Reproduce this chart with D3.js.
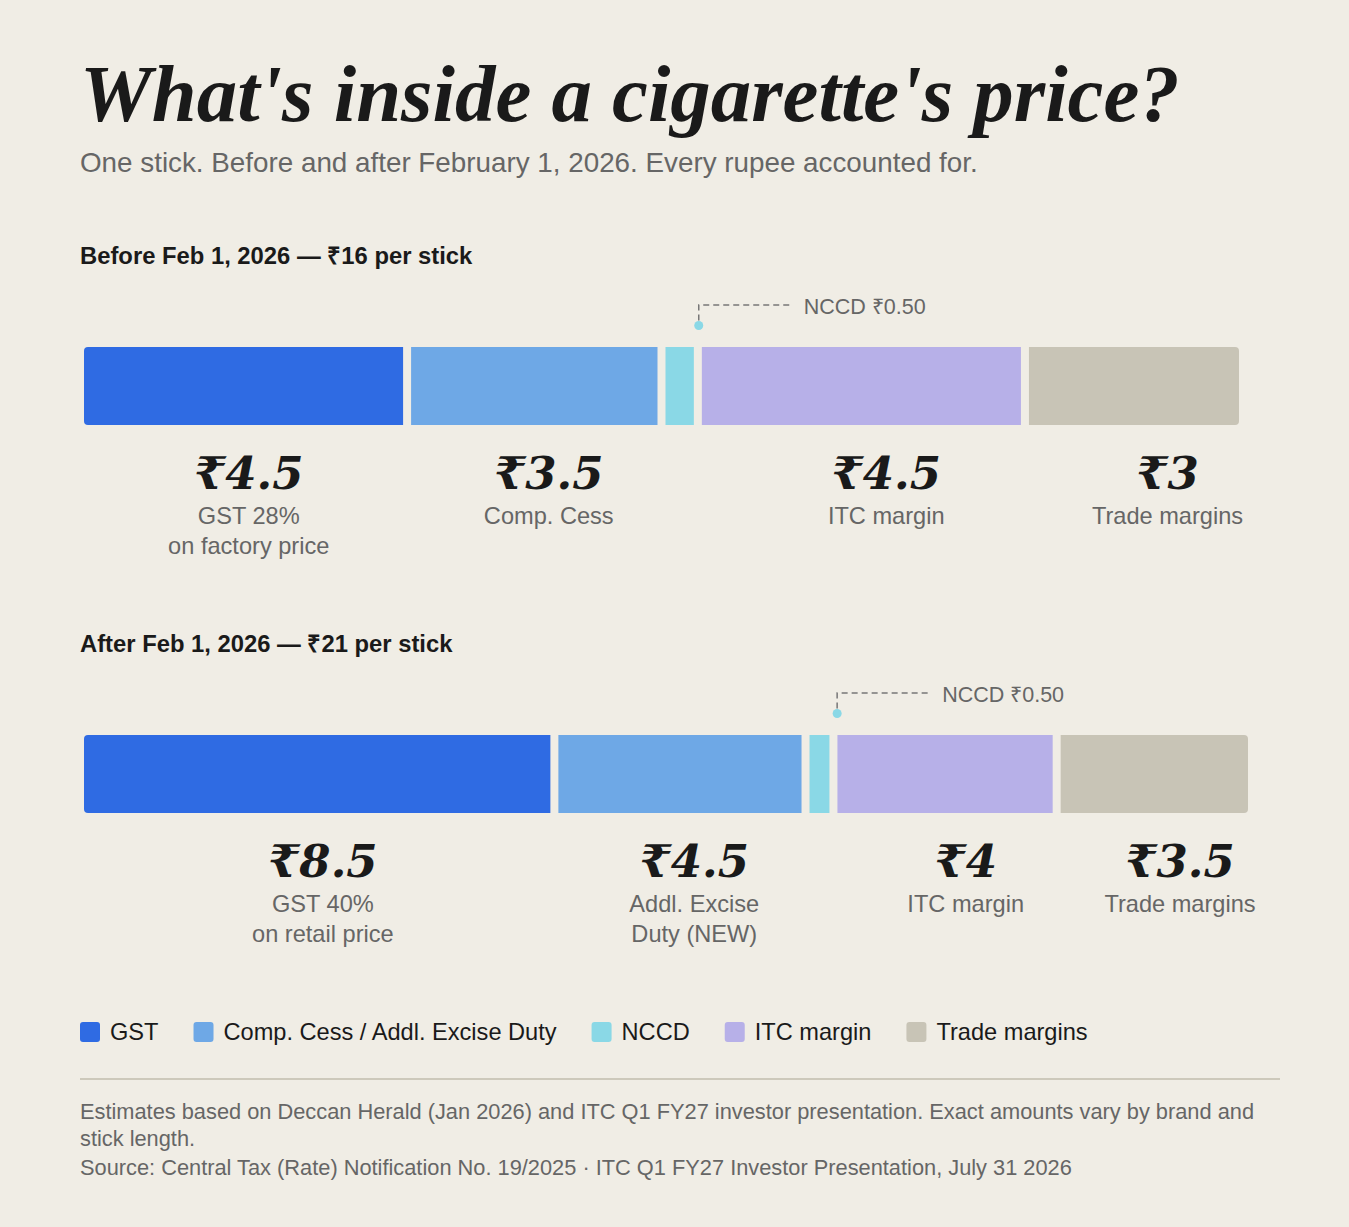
<!DOCTYPE html>
<html>
<head>
<meta charset="utf-8">
<script src="https://cdn.jsdelivr.net/npm/d3@7"></script>
<style>
  body { margin: 0; background: #f0ede5; }
  svg { display: block; }
</style>
</head>
<body>
<div id="chart"></div>
<script>
// data
const categories = ["GST", "Comp. Cess / Addl. Excise Duty", "NCCD", "ITC margin", "Trade margins"];
const colors = ["#2f6be3", "#6ea8e6", "#8ad8e6", "#b7b0e8", "#c8c4b6"];
const panelTitles = ["Before Feb 1, 2026 — ₹16 per stick", "After Feb 1, 2026 — ₹21 per stick"];
const beforeValues = [4.5, 3.5, 0.5, 4.5, 3];
const afterValues = [8.5, 4.5, 0.5, 4, 3.5];
const beforeLabels = [["GST 28%", "on factory price"], ["Comp. Cess"], null, ["ITC margin"], ["Trade margins"]];
const afterLabels = [["GST 40%", "on retail price"], ["Addl. Excise", "Duty (NEW)"], null, ["ITC margin"], ["Trade margins"]];
const calloutIndex = 2; // NCCD is too thin for a label below, gets a callout

const title = "What's inside a cigarette's price?";
const subtitle = "One stick. Before and after February 1, 2026. Every rupee accounted for.";
const notes = [
  "Estimates based on Deccan Herald (Jan 2026) and ITC Q1 FY27 investor presentation. Exact amounts vary by brand and",
  "stick length."
];
const source = "Source: Central Tax (Rate) Notification No. 19/2025 · ITC Q1 FY27 Investor Presentation, July 31 2026";

const width = 1349;
const height = 1227;
const left = 80, right = 1280;
const sans = "'Liberation Sans', Arial, Helvetica, sans-serif";
const serif = "'DejaVu Serif', Georgia, serif";
const ink = "#1a1a1a", grey = "#666";

const svg = d3.select("#chart").append("svg")
  .attr("width", width)
  .attr("height", height);

svg.append("rect").attr("width", width).attr("height", height).attr("fill", "#f0ede5");

// title, fitted to its width in the reference
let t = svg.append("text")
  .attr("x", left).attr("y", 121)
  .style("font-family", "'Liberation Serif', Georgia, serif")
  .style("font-weight", "bold").style("font-style", "italic")
  .style("font-size", "66px")
  .attr("fill", ink)
  .text(title);
let tw = t.node().getComputedTextLength();
t.style("font-size", (66 * 1100 / tw) + "px");

svg.append("text")
  .attr("x", left).attr("y", 172)
  .style("font-family", sans).style("font-size", "27.8px")
  .attr("fill", grey)
  .text(subtitle);

const panels = [
  { values: beforeValues, labels: beforeLabels, top: 264, barRight: 1247 },
  { values: afterValues, labels: afterLabels, top: 652, barRight: 1256 }
];

panels.forEach((p, pi) => {
  let total = d3.sum(p.values);
  let starts = d3.cumsum([0].concat(p.values)).slice(0, p.values.length);
  let segs = p.values.map((v, i) => ({ v: v, start: starts[i], i: i, label: p.labels[i] }));

  let barTop = p.top + 83, barH = 78, gap = 8;
  let x = d3.scaleLinear().domain([0, total]).range([84, p.barRight]);
  let lx = d3.scaleLinear().domain([0, total]).range([left, right]);

  let g = svg.append("g");

  g.append("text")
    .attr("x", left).attr("y", p.top)
    .style("font-family", sans).style("font-weight", "bold").style("font-size", "23.8px")
    .attr("fill", ink)
    .text(panelTitles[pi]);

  // rounded ends only on the outside of the bar
  let clipId = "clip" + pi;
  g.append("clipPath").attr("id", clipId)
    .append("rect")
    .attr("x", x(0)).attr("y", barTop)
    .attr("width", x(total) - gap - x(0)).attr("height", barH)
    .attr("rx", 4);

  g.append("g").attr("clip-path", "url(#" + clipId + ")")
    .selectAll("rect")
    .data(segs).enter()
    .append("rect")
    .attr("x", d => x(d.start))
    .attr("y", barTop)
    .attr("width", d => x(d.start + d.v) - x(d.start) - gap)
    .attr("height", barH)
    .attr("fill", d => colors[d.i]);

  let labelled = segs.filter(d => d.label);
  g.selectAll("text.val")
    .data(labelled).enter()
    .append("text")
    .attr("class", "val")
    .attr("x", d => lx(d.start + d.v / 2))
    .attr("y", barTop + barH + 64)
    .attr("text-anchor", "middle")
    .style("font-family", serif).style("font-weight", "bold").style("font-style", "italic")
    .style("font-size", "45px")
    .attr("fill", ink)
    .text(d => "₹" + d.v);

  labelled.forEach(d => {
    d.label.forEach((line, li) => {
      g.append("text")
        .attr("x", lx(d.start + d.v / 2))
        .attr("y", barTop + barH + 99 + li * 30)
        .attr("text-anchor", "middle")
        .style("font-family", sans).style("font-size", "23.6px")
        .attr("fill", grey)
        .text(line);
    });
  });

  // callout for the thin slice
  let c = segs[calloutIndex];
  let cx = lx(c.start + c.v / 2), cy = barTop - 21.5;
  g.append("path")
    .attr("d", "M" + cx + "," + (cy - 5) + "V" + (barTop - 42) + "H" + (cx + 92))
    .attr("fill", "none")
    .attr("stroke", "#777")
    .attr("stroke-width", 1.5)
    .attr("stroke-dasharray", "6,4");
  g.append("circle")
    .attr("cx", cx).attr("cy", cy).attr("r", 4.5)
    .attr("fill", colors[calloutIndex]);
  g.append("text")
    .attr("x", cx + 105).attr("y", barTop - 33)
    .style("font-family", sans).style("font-size", "21.5px")
    .attr("fill", grey)
    .text(categories[calloutIndex] + " ₹" + c.v.toFixed(2));
});

// legend
let lxPos = left;
categories.forEach((name, i) => {
  svg.append("rect")
    .attr("x", lxPos).attr("y", 1022)
    .attr("width", 20).attr("height", 20).attr("rx", 3)
    .attr("fill", colors[i]);
  let txt = svg.append("text")
    .attr("x", lxPos + 30).attr("y", 1040)
    .style("font-family", sans).style("font-size", "23.6px")
    .attr("fill", ink)
    .text(name);
  lxPos += 30 + txt.node().getComputedTextLength() + 35;
});

svg.append("line")
  .attr("x1", left).attr("x2", right)
  .attr("y1", 1079).attr("y2", 1079)
  .attr("stroke", "#cdc9bb").attr("stroke-width", 2);

notes.forEach((line, i) => {
  svg.append("text")
    .attr("x", left).attr("y", 1119 + i * 27)
    .style("font-family", sans).style("font-size", "21.8px")
    .attr("fill", grey)
    .text(line);
});
svg.append("text")
  .attr("x", left).attr("y", 1175)
  .style("font-family", sans).style("font-size", "21.8px")
  .attr("fill", grey)
  .text(source);
</script>
</body>
</html>
